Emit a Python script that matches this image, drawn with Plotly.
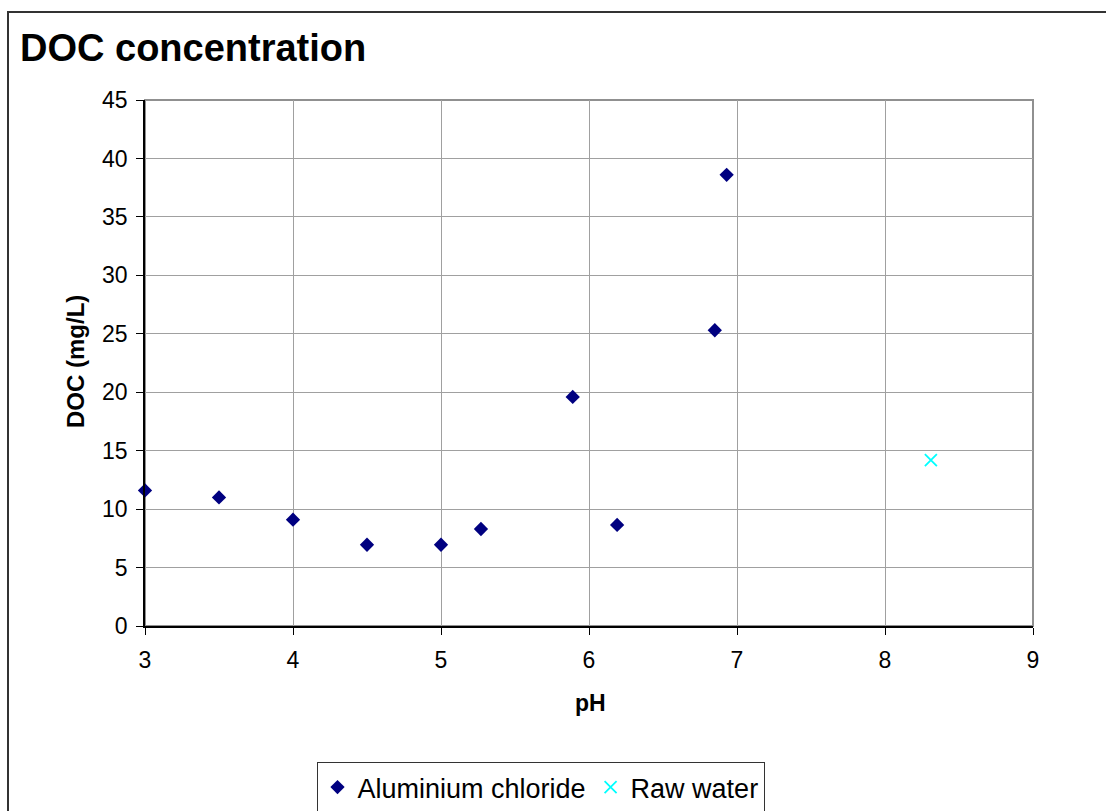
import plotly.graph_objects as go

# Data
alum_ph = [3.0, 3.5, 4.0, 4.5, 5.0, 5.27, 5.89, 6.19, 6.85, 6.93]
alum_doc = [11.6, 11.0, 9.1, 6.95, 6.95, 8.3, 19.6, 8.65, 25.3, 38.6]
raw_ph = [8.31]
raw_doc = [14.2]

x_ticks = [3, 4, 5, 6, 7, 8, 9]
y_ticks = [0, 5, 10, 15, 20, 25, 30, 35, 40, 45]

FONT = "Liberation Sans, Arial, sans-serif"

fig = go.Figure()
fig.add_trace(go.Scatter(
    x=alum_ph, y=alum_doc, mode="markers", name="Aluminium chloride",
    marker=dict(symbol="diamond", size=11, color="#000080",
                line=dict(width=0)),
    cliponaxis=False,
))
fig.add_trace(go.Scatter(
    x=raw_ph, y=raw_doc, mode="markers", name="Raw water",
    marker=dict(symbol="x-thin-open", size=12, color="#00FFFF",
                line=dict(width=1.8, color="#00FFFF")),
    cliponaxis=False,
))

W, H = 1106, 811
L, R, T, B = 145, 1033, 100, 626
pw, ph = R - L, B - T


def px(xp):
    return (xp - L) / pw


def py(yp):
    return (B - yp) / ph


fig.update_layout(
    width=W, height=H,
    margin=dict(l=L, r=W - R, t=T, b=H - B, pad=0, autoexpand=False),
    paper_bgcolor="white", plot_bgcolor="white",
    font=dict(family=FONT, color="black", size=23),
    title=dict(text="<b>DOC concentration</b>", x=20 / W, xanchor="left",
               xref="container", y=1 - 48 / H, yanchor="middle",
               yref="container", font=dict(size=38, family=FONT, color="black")),
    showlegend=True,
    legend=dict(orientation="h", x=px(540.5), xanchor="center",
                y=py(762), yanchor="top",
                bordercolor="#333333", borderwidth=1, bgcolor="white",
                font=dict(size=27, family=FONT, color="black"),
                itemsizing="trace", tracegroupgap=0, itemwidth=30),
    xaxis=dict(range=[3, 9], tickvals=x_ticks, ticktext=[str(v) for v in x_ticks],
               showgrid=True, gridcolor="#a0a0a0", gridwidth=1,
               showline=True, linecolor="black", linewidth=1.5,
               ticks="outside", ticklen=7, tickcolor="black", tickwidth=1,
               ticklabelstandoff=6, automargin=False,
               zeroline=False, tickfont=dict(size=23, family=FONT)),
    yaxis=dict(range=[0, 45], tickvals=y_ticks, ticktext=[str(v) for v in y_ticks],
               showgrid=True, gridcolor="#a0a0a0", gridwidth=1,
               showline=True, linecolor="black", linewidth=1.5,
               ticks="outside", ticklen=7, tickcolor="black", tickwidth=1,
               ticklabelstandoff=4, automargin=False,
               zeroline=False, tickfont=dict(size=23, family=FONT)),
    shapes=[
        # plot area border (gray top/right)
        dict(type="rect", xref="paper", yref="paper", x0=0, x1=1, y0=0, y1=1,
             line=dict(color="#909090", width=2), layer="below"),
        # outer chart border
        dict(type="rect", xref="paper", yref="paper", x0=px(8), x1=px(1200),
             y0=py(900), y1=py(12), line=dict(color="#333333", width=2)),
    ],
    annotations=[
        dict(text="<b>DOC (mg/L)</b>", xref="paper", yref="paper",
             x=px(75), y=py(362), textangle=-90, showarrow=False,
             xanchor="center", yanchor="middle",
             font=dict(size=24, family=FONT, color="black")),
        dict(text="<b>pH</b>", xref="paper", yref="paper",
             x=px(590), y=py(703), showarrow=False,
             xanchor="center", yanchor="middle",
             font=dict(size=23, family=FONT, color="black")),
    ],
)

fig.write_html("out.html")
